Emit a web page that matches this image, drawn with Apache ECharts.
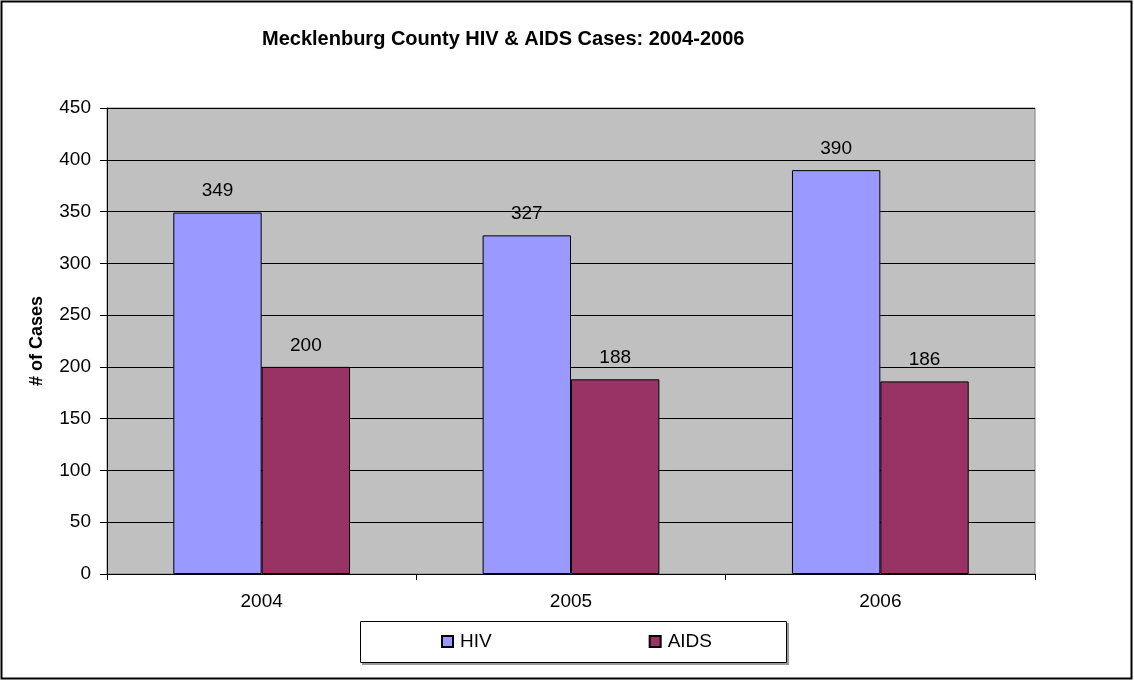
<!DOCTYPE html>
<html>
<head>
<meta charset="utf-8">
<script src="https://cdn.jsdelivr.net/npm/echarts@6/dist/echarts.min.js"></script>
<style>
  html, body { margin: 0; padding: 0; background: #fff; }
  #chart { width: 1134px; height: 681px; }
</style>
</head>
<body>
<div id="chart"></div>
<script>
  var years = ['2004', '2005', '2006'];
  var hivCases = [349, 327, 390];
  var aidsCases = [200, 188, 186];
  var yTicks = { min: 0, max: 450, step: 50 };

  var font = 'Liberation Sans, Arial, sans-serif';
  var myChart = echarts.init(document.getElementById('chart'));

  myChart.setOption({
    animation: false,
    backgroundColor: '#fff',
    title: {
      text: 'Mecklenburg County HIV & AIDS Cases: 2004-2006',
      left: 257,
      top: 24,
      textStyle: { fontFamily: font, fontSize: 20, fontWeight: 'bold', color: '#000' }
    },
    graphic: [
      // outer frame
      { type: 'rect', shape: { x: 1.5, y: 1.5, width: 1130, height: 677 },
        style: { fill: 'none', stroke: '#000', lineWidth: 2 }, z: 100 },
      // legend box shadow + box
      { type: 'rect', shape: { x: 362, y: 623, width: 427, height: 42 },
        style: { fill: '#999' }, z: 1 },
      { type: 'rect', shape: { x: 360.5, y: 621.5, width: 426, height: 41 },
        style: { fill: '#fff', stroke: '#000', lineWidth: 1 }, z: 2 }
    ],
    legend: {
      data: ['HIV', 'AIDS'],
      left: 441,
      top: 632,
      padding: 0,
      icon: 'rect',
      itemWidth: 11,
      itemHeight: 11,
      itemGap: 157,
      z: 10,
      textStyle: { fontFamily: font, fontSize: 19, color: '#000', padding: [0, 0, 0, 2] }
    },
    grid: {
      left: 107,
      right: 99,
      top: 108,
      bottom: 107,
      show: true,
      backgroundColor: '#c0c0c0',
      borderColor: '#808080',
      borderWidth: 1
    },
    xAxis: {
      type: 'category',
      data: years,
      axisLine: { lineStyle: { color: '#000', width: 1 } },
      axisTick: { show: true, length: 6, alignWithLabel: false, lineStyle: { color: '#000' } },
      axisLabel: { fontFamily: font, fontSize: 19, color: '#000', margin: 18 }
    },
    yAxis: {
      type: 'value',
      min: yTicks.min,
      max: yTicks.max,
      interval: yTicks.step,
      name: '# of Cases',
      nameLocation: 'middle',
      nameGap: 61,
      nameTextStyle: { fontFamily: font, fontSize: 18, fontWeight: 'bold', color: '#000' },
      axisLine: { show: true, lineStyle: { color: '#000' } },
      axisTick: { show: true, length: 7, lineStyle: { color: '#000' } },
      axisLabel: { fontFamily: font, fontSize: 19, color: '#000', margin: 16 },
      splitLine: { show: true, lineStyle: { color: '#000', width: 1 } }
    },
    series: [
      {
        name: 'HIV',
        type: 'bar',
        data: hivCases,
        barGap: '0%',
        barCategoryGap: '42.86%',
        itemStyle: { color: '#9999ff', borderColor: '#000', borderWidth: 1 },
        label: { show: true, position: 'top', distance: 12, fontFamily: font, fontSize: 19, color: '#000' }
      },
      {
        name: 'AIDS',
        type: 'bar',
        data: aidsCases,
        barGap: '0%',
        barCategoryGap: '42.86%',
        itemStyle: { color: '#993366', borderColor: '#000', borderWidth: 1 },
        label: { show: true, position: 'top', distance: 12, fontFamily: font, fontSize: 19, color: '#000' }
      }
    ]
  });
</script>
</body>
</html>
